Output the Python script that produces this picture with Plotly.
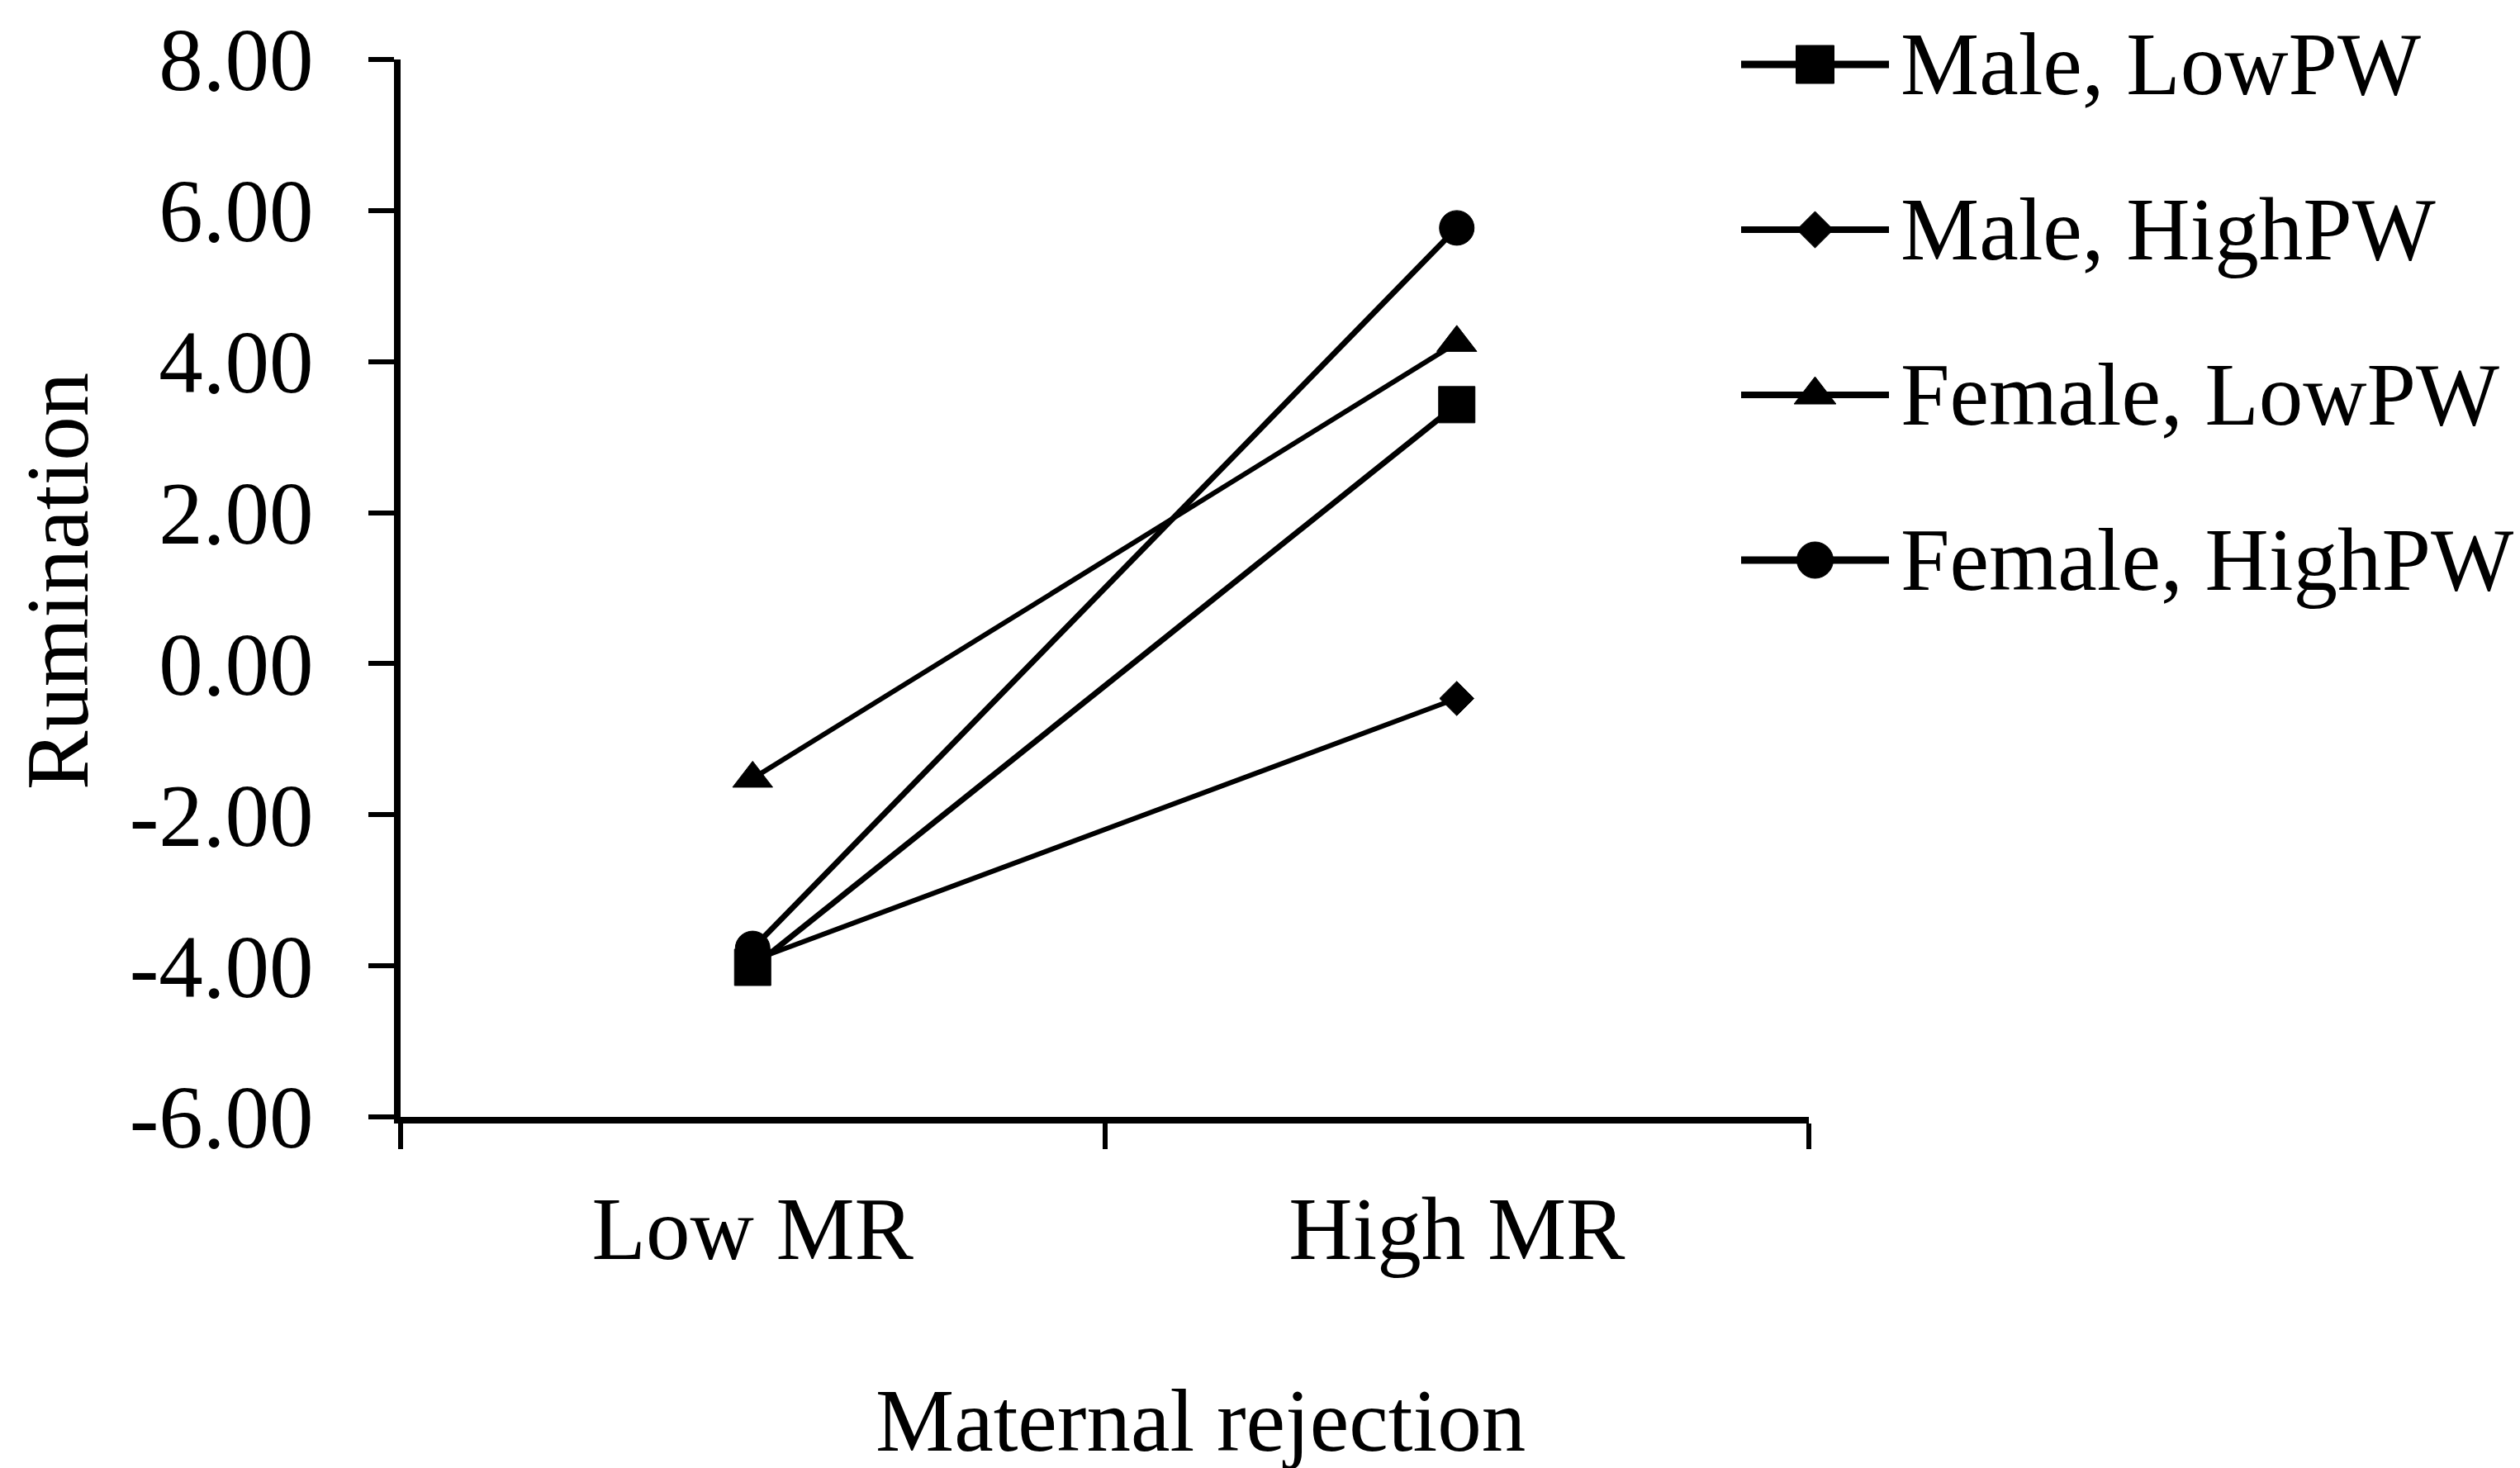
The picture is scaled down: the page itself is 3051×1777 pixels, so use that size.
import plotly.graph_objects as go

# data
categories = ["Low MR", "High MR"]
series_names = ["Male, LowPW", "Male, HighPW", "Female, LowPW", "Female, HighPW"]
male_low_pw = [-4.02, 3.43]
male_high_pw = [-3.93, -0.46]
female_low_pw = [-1.52, 4.25]
female_high_pw = [-3.77, 5.77]
y_ticks = [-6, -4, -2, 0, 2, 4, 6, 8]
y_tick_text = [f"{v:.2f}" for v in y_ticks]  # plain hyphen, like Excel

# legend rows, top to bottom
legend_rows = [3, 2, 1, 0]
legend_line_x = [0, 2]
legend_mark_x = [1]

W, H = 3051, 1777
FONT = "Liberation Serif, Times New Roman, serif"
FS = 107

symbols = ["square", "diamond", "triangle-up", "circle"]
sizes = [44, 32, 42, 42]
widths = [7, 6, 6, 7]
values = [male_low_pw, male_high_pw, female_low_pw, female_high_pw]

fig = go.Figure()

for name, vals, sym, sz, lw in zip(series_names, values, symbols, sizes, widths):
    fig.add_trace(go.Scatter(
        x=categories, y=vals, name=name, mode="lines+markers",
        line=dict(color="black", width=lw),
        marker=dict(symbol=sym, size=sz, color="black",
                    line=dict(color="black", width=1)),
        showlegend=False, xaxis="x", yaxis="y",
    ))

# hand-made legend on its own small axes, so the line samples are long like Excel's
for name, row, sym, sz, lw in zip(series_names, legend_rows, symbols, sizes, widths):
    fig.add_trace(go.Scatter(
        x=legend_line_x, y=[row] * 2, mode="lines",
        line=dict(color="black", width=lw + 2),
        showlegend=False, xaxis="x2", yaxis="y2", hoverinfo="skip",
    ))
    fig.add_trace(go.Scatter(
        x=legend_mark_x, y=[row], mode="markers",
        marker=dict(symbol=sym, size=sz + 2, color="black",
                    line=dict(color="black", width=1)),
        showlegend=False, xaxis="x2", yaxis="y2", hoverinfo="skip",
    ))
    fig.add_annotation(
        x=2, y=row, xref="x2", yref="y2", text=name, showarrow=False,
        xanchor="left", yanchor="middle", xshift=12,
        font=dict(family=FONT, size=FS, color="black"),
    )

# axis titles
fig.add_annotation(
    x=1445 / W, y=1 - 1712 / H, xref="paper", yref="paper",
    text="Maternal rejection", showarrow=False,
    xanchor="center", yanchor="middle",
    font=dict(family=FONT, size=FS, color="black"),
)
fig.add_annotation(
    x=62 / W, y=1 - 696 / H, xref="paper", yref="paper",
    text="Rumination", showarrow=False, textangle=-90,
    xanchor="center", yanchor="middle",
    font=dict(family=FONT, size=FS, color="black"),
)

fig.update_layout(
    width=W, height=H,
    margin=dict(l=0, r=0, t=0, b=0),
    paper_bgcolor="white", plot_bgcolor="white",
    font=dict(family=FONT, size=FS, color="black"),
    xaxis=dict(
        domain=[477 / W, 2182 / W], automargin=False,
        type="category", range=[-0.5, 1.5],
        tickson="boundaries", ticks="outside", ticklen=31, tickwidth=6,
        tickcolor="black", showline=True, linecolor="black", linewidth=8,
        showgrid=False, zeroline=False, ticklabelstandoff=36,
        tickfont=dict(family=FONT, size=FS, color="black"),
    ),
    yaxis=dict(
        domain=[1 - 1344 / H, 1 - 64 / H], automargin=False,
        range=[-6, 8], tickvals=y_ticks, ticktext=y_tick_text,
        ticks="outside", ticklen=31, tickwidth=6, tickcolor="black",
        showline=True, linecolor="black", linewidth=8,
        showgrid=False, zeroline=False, ticklabelstandoff=45,
        ticklabeloverflow="allow",
        tickfont=dict(family=FONT, size=FS, color="black"),
    ),
    xaxis2=dict(
        domain=[2100 / W, 2279 / W], range=[0, 2], visible=False,
        anchor="y2", automargin=False,
    ),
    yaxis2=dict(
        domain=[1 - 720 / H, 1 - 20 / H], range=[-0.25, 3.25], visible=False,
        anchor="x2", automargin=False,
    ),
)

fig.write_html("out.html")
